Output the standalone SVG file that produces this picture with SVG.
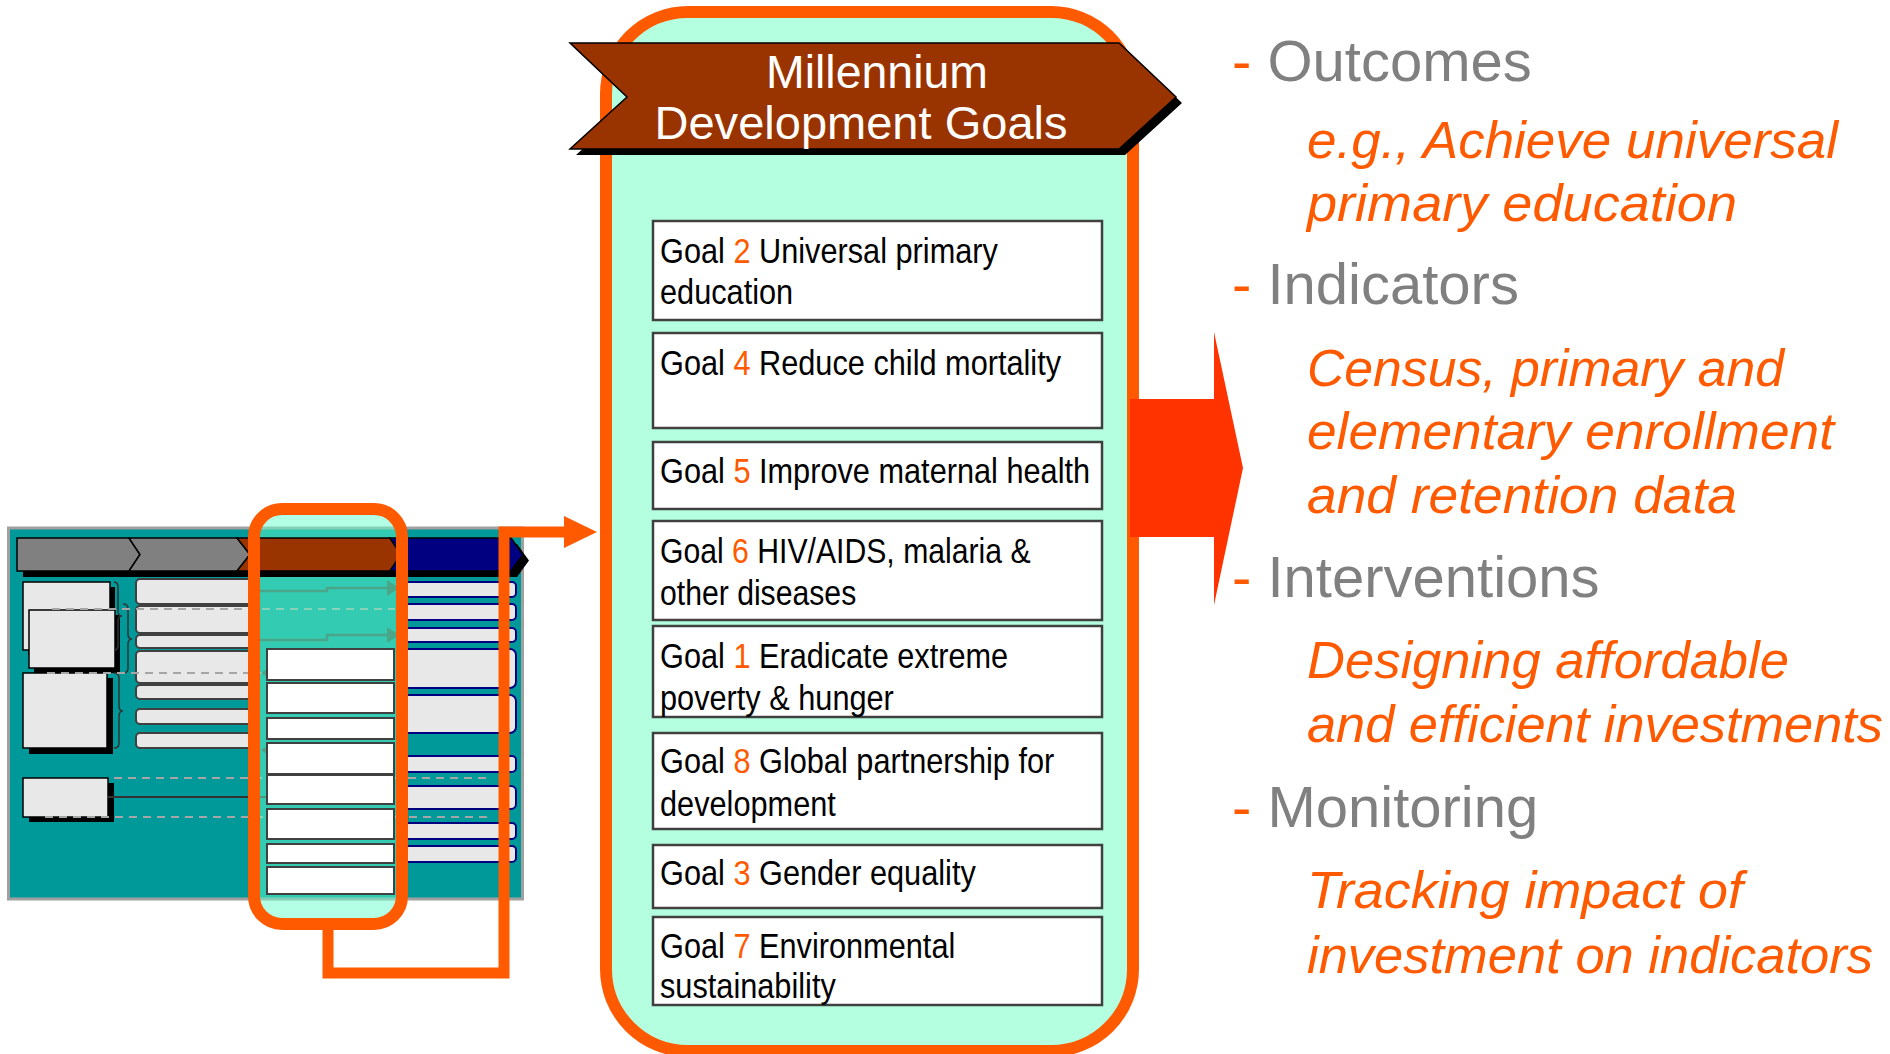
<svg xmlns="http://www.w3.org/2000/svg" width="1890" height="1054" viewBox="0 0 1890 1054">
<style>
.goalbox{fill:#fff;stroke:#404040;stroke-width:2.5}
.gt{font-family:"Liberation Sans",Arial,sans-serif;font-size:35.5px;fill:#000}
.num{fill:#FF5A00}
.head{font-family:"Liberation Sans",Arial,sans-serif;font-size:58px;fill:#808080}
.dash{fill:#FF5A00}
.it{font-family:"Liberation Sans",Arial,sans-serif;font-style:italic;font-size:52px;fill:#FF5A00}
.ban{font-family:"Liberation Sans",Arial,sans-serif;font-size:46.5px;fill:#fff;text-anchor:middle}
.lbox{fill:#E8E8E8;stroke:#000;stroke-width:1.5}
.shd{fill:#000}
.mbox{fill:#E8E8E8;stroke:#404040;stroke-width:2}
.rbox{fill:#E8E8E8;stroke:#000080;stroke-width:2}
.wbox{fill:#fff;stroke:#404040;stroke-width:2}
.dsh{fill:none;stroke:#A6A6A6;stroke-width:2;stroke-dasharray:8 6}
.brace{fill:none;stroke:#333;stroke-width:1.5}
.chev{stroke:#000;stroke-width:1.5}
.tarrow{fill:none;stroke:#2E4A46;stroke-width:2.5}
</style>
<defs>
<marker id="oh" markerUnits="userSpaceOnUse" viewBox="0 0 33 32" refX="2" refY="16" markerWidth="33" markerHeight="32" orient="auto">
<path d="M0,0 L33,16 L0,32 Z" fill="#FF5A00"/>
</marker>
</defs>

<g id="thumbnail">
<rect x="8.5" y="528" width="514" height="371" fill="#009999" stroke="#A0A0A0" stroke-width="3"/>
<rect class="shd" x="28" y="587" width="87" height="68"/>
<rect class="lbox" x="23" y="582" width="87" height="68"/>
<rect class="shd" x="34" y="615" width="86" height="58"/>
<rect class="lbox" x="29" y="610" width="86" height="58"/>
<rect class="shd" x="29" y="678" width="84" height="76"/>
<rect class="lbox" x="23" y="673" width="84" height="75"/>
<rect class="shd" x="29" y="783" width="85" height="39"/>
<rect class="lbox" x="23" y="778" width="85" height="39"/>
<path class="brace" d="M114,582 q4,0 4,5 v24 q0,5 4,5 q-4,0 -4,5 v24 q0,5 -4,5"/>
<path class="brace" d="M123,604 q5,0 5,5 v25 q0,5 4,5 q-4,0 -4,5 v24 q0,5 -5,5"/>
<path class="brace" d="M114,673 q5,0 5,5 v28 q0,5 4,5 q-4,0 -4,5 v27 q0,5 -5,5"/>
<rect class="mbox" x="136" y="579" width="122" height="25" rx="4"/>
<rect class="mbox" x="136" y="606" width="122" height="27" rx="4"/>
<rect class="mbox" x="136" y="635" width="122" height="13" rx="4"/>
<rect class="mbox" x="136" y="651" width="122" height="32" rx="4"/>
<rect class="mbox" x="136" y="685" width="122" height="14" rx="4"/>
<rect class="mbox" x="136" y="709" width="122" height="15" rx="4"/>
<rect class="mbox" x="136" y="733" width="122" height="15" rx="4"/>
<rect class="rbox" x="400" y="582" width="116" height="15" rx="4"/>
<rect class="rbox" x="400" y="604" width="116" height="16" rx="4"/>
<rect class="rbox" x="400" y="628" width="116" height="14" rx="4"/>
<rect class="rbox" x="400" y="649" width="116" height="39" rx="6"/>
<rect class="rbox" x="400" y="695" width="116" height="38" rx="6"/>
<rect class="rbox" x="400" y="756" width="116" height="16" rx="4"/>
<rect class="rbox" x="400" y="786" width="116" height="23" rx="5"/>
<rect class="rbox" x="400" y="823" width="116" height="16" rx="4"/>
<rect class="rbox" x="400" y="846" width="116" height="16" rx="4"/>
<line class="dsh" x1="52" y1="609" x2="395" y2="609"/>
<line class="dsh" x1="47" y1="673" x2="264" y2="673"/>
<line class="dsh" x1="114" y1="778" x2="487" y2="778"/>
<line class="dsh" x1="45" y1="817" x2="487" y2="817"/>
<line x1="108" y1="797" x2="267" y2="797" stroke="#333" stroke-width="2"/>
<polyline class="tarrow" points="250,591 327,591 327,588 388,588"/>
<polygon points="387,580 399,588 387,596" fill="#2E4A46"/>
<polyline class="tarrow" points="250,640 327,640 327,635 388,635"/>
<polygon points="387,627 399,635 387,643" fill="#2E4A46"/>
<polygon points="273,665 261,673 273,681" fill="#2E4A46"/>
<polygon points="273,742 261,750 273,758" fill="#2E4A46"/>
<rect x="254" y="509" width="148" height="415" rx="28" fill="#66FFCC" fill-opacity="0.5"/>
<polygon class="shd" points="23,544 517,544 529,560.5 517,577 23,577"/>
<polygon class="chev" fill="#808080" points="17,538 129,538 140,554.5 129,571 17,571"/>
<polygon class="chev" fill="#808080" points="129,538 237,538 250,554.5 237,571 129,571 140,554.5"/>
<polygon class="chev" fill="#993300" points="237,538 390,538 401,554.5 390,571 237,571 250,554.5"/>
<polygon class="chev" fill="#000080" points="390,538 511,538 523,554.5 511,571 390,571 401,554.5"/>
<rect class="wbox" x="267" y="649" width="127" height="31"/>
<rect class="wbox" x="267" y="683" width="127" height="30"/>
<rect class="wbox" x="267" y="718" width="127" height="21"/>
<rect class="wbox" x="267" y="743" width="127" height="31"/>
<rect class="wbox" x="267" y="775" width="127" height="29"/>
<rect class="wbox" x="267" y="809" width="127" height="30"/>
<rect class="wbox" x="267" y="844" width="127" height="19"/>
<rect class="wbox" x="267" y="867" width="127" height="27"/>
<rect x="254" y="509" width="148" height="415" rx="28" fill="none" stroke="#FF5A00" stroke-width="12"/>
</g>

<g id="connectors">
<path d="M328,928 V973 H504 V532 H566" fill="none" stroke="#FF5A00" stroke-width="11" marker-end="url(#oh)"/>
</g>

<g id="mdg">
<rect x="606" y="12" width="527" height="1039" rx="82" ry="82" fill="#B3FFE0" stroke="#FF5A00" stroke-width="12"/>
<polygon points="576,49 1125,49 1182,103 1125,155 576,155 633,103" fill="#000"/>
<polygon points="570,43 1119,43 1176,97 1119,149 570,149 627,97" fill="#993300" stroke="#000" stroke-width="1.5"/>
<text class="ban" x="877" y="88" textLength="222" lengthAdjust="spacingAndGlyphs">Millennium</text>
<text class="ban" x="861" y="139" textLength="413" lengthAdjust="spacingAndGlyphs">Development Goals</text>
</g>

<g id="goal2">
<rect class="goalbox" x="653" y="221" width="449" height="99"/>
<text class="gt" transform="translate(660,263) scale(0.865,1)"><tspan x="0" y="0">Goal <tspan class="num">2</tspan> Universal primary</tspan><tspan x="0" y="41">education</tspan></text>
</g>
<g id="goal4">
<rect class="goalbox" x="653" y="333" width="449" height="95"/>
<text class="gt" transform="translate(660,375) scale(0.865,1)">Goal <tspan class="num">4</tspan> Reduce child mortality</text>
</g>
<g id="goal5">
<rect class="goalbox" x="653" y="442" width="449" height="67"/>
<text class="gt" transform="translate(660,483) scale(0.865,1)">Goal <tspan class="num">5</tspan> Improve maternal health</text>
</g>
<g id="goal6">
<rect class="goalbox" x="653" y="521" width="449" height="99"/>
<text class="gt" transform="translate(660,563) scale(0.85,1)"><tspan x="0" y="0">Goal <tspan class="num">6</tspan> HIV/AIDS, malaria &amp;</tspan><tspan x="0" y="42">other diseases</tspan></text>
</g>
<g id="goal1">
<rect class="goalbox" x="653" y="626" width="449" height="91"/>
<text class="gt" transform="translate(660,668) scale(0.865,1)"><tspan x="0" y="0">Goal <tspan class="num">1</tspan> Eradicate extreme</tspan><tspan x="0" y="42">poverty &amp; hunger</tspan></text>
</g>
<g id="goal8">
<rect class="goalbox" x="653" y="733" width="449" height="96"/>
<text class="gt" transform="translate(660,773) scale(0.865,1)"><tspan x="0" y="0">Goal <tspan class="num">8</tspan> Global partnership for</tspan><tspan x="0" y="43">development</tspan></text>
</g>
<g id="goal3">
<rect class="goalbox" x="653" y="845" width="449" height="63"/>
<text class="gt" transform="translate(660,885) scale(0.865,1)">Goal <tspan class="num">3</tspan> Gender equality</text>
</g>
<g id="goal7">
<rect class="goalbox" x="653" y="917" width="449" height="88"/>
<text class="gt" transform="translate(660,958) scale(0.865,1)"><tspan x="0" y="0">Goal <tspan class="num">7</tspan> Environmental</tspan><tspan x="0" y="40">sustainability</tspan></text>
</g>

<g id="big-arrow">
<polygon points="1130,399 1214,399 1214,332 1243,468 1214,605 1214,537 1130,537" fill="#FF3300"/>
</g>

<g id="outcomes">
<text class="head" x="1232" y="81"><tspan class="dash">-</tspan> Outcomes</text>
<text class="it" x="1307" y="158" textLength="531" lengthAdjust="spacingAndGlyphs">e.g., Achieve universal</text>
<text class="it" x="1307" y="221" textLength="430" lengthAdjust="spacingAndGlyphs">primary education</text>
</g>
<g id="indicators">
<text class="head" x="1232" y="304"><tspan class="dash">-</tspan> Indicators</text>
<text class="it" x="1307" y="386" textLength="477" lengthAdjust="spacingAndGlyphs">Census, primary and</text>
<text class="it" x="1307" y="449" textLength="527" lengthAdjust="spacingAndGlyphs">elementary enrollment</text>
<text class="it" x="1307" y="513" textLength="430" lengthAdjust="spacingAndGlyphs">and retention data</text>
</g>
<g id="interventions">
<text class="head" x="1232" y="597"><tspan class="dash">-</tspan> Interventions</text>
<text class="it" x="1307" y="678" textLength="482" lengthAdjust="spacingAndGlyphs">Designing affordable</text>
<text class="it" x="1307" y="742" textLength="576" lengthAdjust="spacingAndGlyphs">and efficient investments</text>
</g>
<g id="monitoring">
<text class="head" x="1232" y="827"><tspan class="dash">-</tspan> Monitoring</text>
<text class="it" x="1307" y="908" textLength="436" lengthAdjust="spacingAndGlyphs">Tracking impact of</text>
<text class="it" x="1307" y="973" textLength="566" lengthAdjust="spacingAndGlyphs">investment on indicators</text>
</g>
</svg>
